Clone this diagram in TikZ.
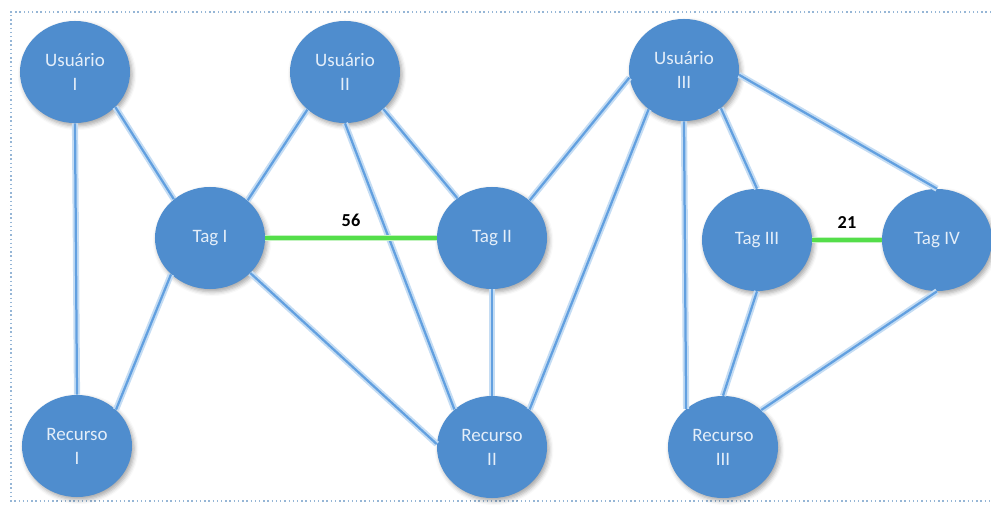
\documentclass[tikz,border=0pt]{standalone}
\usepackage{fontspec}
\setmainfont{Carlito}
\usetikzlibrary{shapes.geometric,shadows.blur}

\definecolor{nodeblue}{RGB}{79,141,206}
\definecolor{linkblue}{RGB}{98,160,224}
\definecolor{linkglow}{RGB}{196,220,243}
\definecolor{taggreen}{RGB}{84,222,74}
\definecolor{framedot}{RGB}{150,182,214}
\definecolor{nodetext}{RGB}{228,238,249}

\tikzset{
  entity/.style={ellipse, minimum width=2.75cm, minimum height=2.55cm, inner sep=0pt,
    fill=nodeblue, text=nodetext, align=center, font=\fontsize{13.5}{17}\selectfont,
    blur shadow={shadow xshift=1.5pt, shadow yshift=-2pt, shadow blur radius=3pt, shadow opacity=35}},
  link/.style={draw=linkblue, line width=1.6pt, preaction={draw=linkglow, line width=4.4pt}},
  taglink/.style={draw=taggreen, line width=2.2pt, preaction={draw=taggreen!35, line width=3.8pt}},
  weight/.style={font=\fontsize{13}{15}\selectfont\bfseries, text=black},
}

\begin{document}
\begin{tikzpicture}[x=0.025cm, y=-0.025cm]
  \useasboundingbox (0,0) rectangle (991,506);
  \draw[framedot, line width=1pt, dotted] (991,12) -- (11,12) -- (11,501) -- (991,501);

  % usuarios, tags, recursos
  \foreach \n/\x/\y/\t in {u1/75/72/{Usuário\\I}, u2/345/72/{Usuário\\II}, u3/684/70/{Usuário\\III},
                           t1/210/238/{Tag I}, t2/492/238/{Tag II}, t3/757/240/{Tag III}, t4/937/240/{Tag IV},
                           r1/77/446/{Recurso\\I}, r2/492/447/{Recurso\\II}, r3/723/447/{Recurso\\III}}
  {
    \node[entity] (\n) at (\x,\y) {\t};
  }

  \foreach \a/\p/\b/\q in {u1/-41/t1/133, u1/south/r1/north, t1/45/u2/225, t1/223/r1/43,
                           t1/-41/r2/177, u2/-90/r2/135, u2/-44/t2/131, t2/45/u3/188,
                           u3/228/r2/45, t2/south/r2/north, u3/south/r3/134, u3/-46/t3/90,
                           u3/-5/t4/90, t3/south/r3/north, t4/south/r3/44}
  {
    \draw[link] (\a.\p) -- (\b.\q);
  }

  \draw[taglink] (t1.east) -- node[weight, above=4pt] {56} (t2.west);
  \draw[taglink] (t3.east) -- node[weight, above=4pt] {21} (t4.west);
\end{tikzpicture}
\end{document}
